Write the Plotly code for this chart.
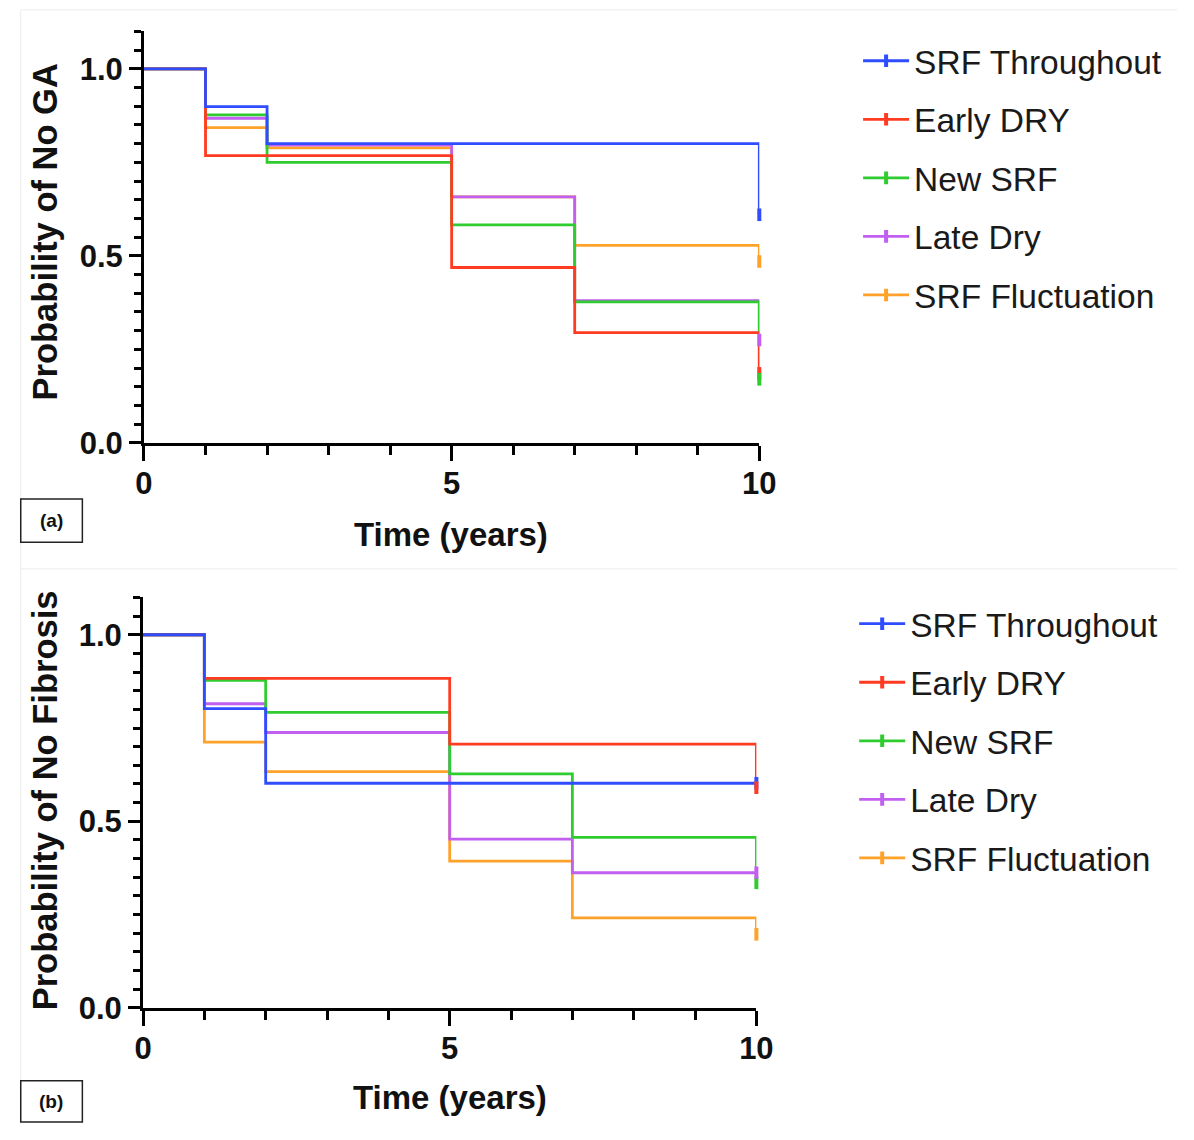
import plotly.graph_objects as go

# ---------------- data ----------------
times = [0, 1, 2, 5, 7, 10]
series_names = ["SRF Throughout", "Early DRY", "New SRF", "Late Dry", "SRF Fluctuation"]

# (a) Probability of No GA
srf_throughout_a = [1.0, 0.899, 0.800, 0.800, 0.800, 0.610]
early_dry_a      = [1.0, 0.768, 0.768, 0.469, 0.295, 0.186]
new_srf_a        = [1.0, 0.877, 0.750, 0.583, 0.377, 0.170]
late_dry_a       = [1.0, 0.868, 0.796, 0.658, 0.380, 0.275]
srf_fluct_a      = [1.0, 0.843, 0.789, 0.658, 0.528, 0.485]

# (b) Probability of No Fibrosis
srf_throughout_b = [1.0, 0.802, 0.602, 0.602, 0.602, 0.602]
early_dry_b      = [1.0, 0.883, 0.883, 0.707, 0.707, 0.590]
new_srf_b        = [1.0, 0.878, 0.792, 0.627, 0.457, 0.335]
late_dry_b       = [1.0, 0.815, 0.738, 0.452, 0.362, 0.362]
srf_fluct_b      = [1.0, 0.712, 0.633, 0.393, 0.241, 0.197]

x_ticks = [0, 5, 10]
y_ticks = [0.0, 0.5, 1.0]

panel_a = [srf_throughout_a, early_dry_a, new_srf_a, late_dry_a, srf_fluct_a]
panel_b = [srf_throughout_b, early_dry_b, new_srf_b, late_dry_b, srf_fluct_b]

# ---------------- style ----------------
colors = ["#2f4dff", "#ff3b22", "#2fcc2f", "#c05ff0", "#ffa22a"]
W, H = 1194, 1140
FONT = "Liberation Sans"

def px(x):
    return x / W

def py(y):
    return 1 - y / H

fig = go.Figure()

panels = [
    dict(data=panel_a, xa="x", ya="y", legend="legend"),
    dict(data=panel_b, xa="x2", ya="y2", legend="legend2"),
]

for p in panels:
    # step curves, drawn bottom->top in reverse legend order
    for i in reversed(range(len(series_names))):
        fig.add_trace(go.Scatter(
            x=times, y=p["data"][i], mode="lines", line=dict(color=colors[i], width=2.8, shape="hv"),
            xaxis=p["xa"], yaxis=p["ya"], showlegend=False, hoverinfo="skip", cliponaxis=False,
        ))
    # censor ticks at last time point (also legend entries)
    for i in range(len(series_names)):
        fig.add_trace(go.Scatter(
            x=[times[-1]], y=[p["data"][i][-1]], mode="lines+markers", name=series_names[i],
            line=dict(color=colors[i], width=2.8),
            marker=dict(symbol="line-ns", size=9, line=dict(color=colors[i], width=4)),
            xaxis=p["xa"], yaxis=p["ya"], legend=p["legend"], legendgroup=p["legend"] + str(i),
            cliponaxis=False,
        ))

tickfont = dict(family=FONT, size=31, color="#111111", weight="bold")

def xaxis_cfg(x0, x1, anchor):
    return dict(
        domain=[px(x0), px(x1)], anchor=anchor, range=[0, 10],
        tickmode="array", tickvals=x_ticks, ticktext=[str(v) for v in x_ticks],
        showline=True, linewidth=3, linecolor="black", ticks="outside", ticklen=15, tickwidth=3,
        tickcolor="black", ticklabelstandoff=-4,
        minor=dict(tickmode="linear", tick0=0, dtick=1, ticks="outside", ticklen=9, tickwidth=3, tickcolor="black"),
        showgrid=False, zeroline=False, tickfont=tickfont, fixedrange=True,
    )

def yaxis_cfg(y_bottom, y_top, anchor):
    return dict(
        domain=[py(y_bottom), py(y_top)], anchor=anchor, range=[0, 1.1],
        tickmode="array", tickvals=y_ticks, ticktext=[f"{v:.1f}" for v in y_ticks],
        showline=True, linewidth=3, linecolor="black", ticks="outside", ticklen=12, tickwidth=3,
        tickcolor="black",
        minor=dict(tickmode="linear", tick0=0, dtick=0.05, ticks="outside", ticklen=7, tickwidth=3, tickcolor="black"),
        showgrid=False, zeroline=False, tickfont=tickfont, fixedrange=True,
    )

legend_font = dict(family=FONT, size=33.5, color="#1a1a1a")

fig.update_layout(
    width=W, height=H, margin=dict(l=0, r=0, t=0, b=0),
    paper_bgcolor="white", plot_bgcolor="white",
    xaxis=xaxis_cfg(138, 767, "y"),
    yaxis=yaxis_cfg(450, 32, "x"),
    xaxis2=xaxis_cfg(137, 764, "y2"),
    yaxis2=yaxis_cfg(1024, 607, "x2"),
    legend=dict(x=px(868), y=py(33), xanchor="left", yanchor="top", font=legend_font,
                bgcolor="rgba(0,0,0,0)", itemwidth=46, tracegroupgap=12, traceorder="grouped"),
    legend2=dict(x=px(864), y=py(605), xanchor="left", yanchor="top", font=legend_font,
                 bgcolor="rgba(0,0,0,0)", itemwidth=46, tracegroupgap=12, traceorder="grouped"),
    showlegend=True,
)

ytitle_font = dict(family=FONT, size=34.5, color="#111111", weight="bold")
xtitle_font = dict(family=FONT, size=33, color="#111111", weight="bold")
annots = [
    dict(text="Probability of No GA", x=px(37), y=py(236), textangle=-90, font=ytitle_font),
    dict(text="Time (years)", x=px(452), y=py(543), textangle=0, font=xtitle_font),
    dict(text="Probability of No Fibrosis", x=px(37), y=py(813), textangle=-90, font=ytitle_font),
    dict(text="Time (years)", x=px(451), y=py(1115), textangle=0, font=xtitle_font),
]
for a in annots:
    fig.add_annotation(xref="paper", yref="paper", xanchor="center", yanchor="middle",
                       showarrow=False, **a)

label_font = dict(family=FONT, size=19, color="#111111", weight="bold")
for lab, y0, y1 in [("(a)", 507, 551), ("(b)", 1098, 1140)]:
    fig.add_shape(type="rect", xref="paper", yref="paper", x0=px(12), x1=px(75), y0=py(y1), y1=py(y0),
                  line=dict(color="#222222", width=1.5), fillcolor="white")
    fig.add_annotation(xref="paper", yref="paper", x=px(43), y=py((y0 + y1) / 2), text=lab,
                       showarrow=False, font=label_font, xanchor="center", yanchor="middle")

# faint panel borders of the composite image
for x0, y0, x1, y1 in [(12, 10, 1194, 10), (12, 10, 12, 1140), (12, 578, 1194, 578)]:
    fig.add_shape(type="line", xref="paper", yref="paper", x0=px(x0), x1=px(x1), y0=py(y0), y1=py(y1),
                  line=dict(color="#ececec", width=1), layer="below")

fig.write_html("out.html")
